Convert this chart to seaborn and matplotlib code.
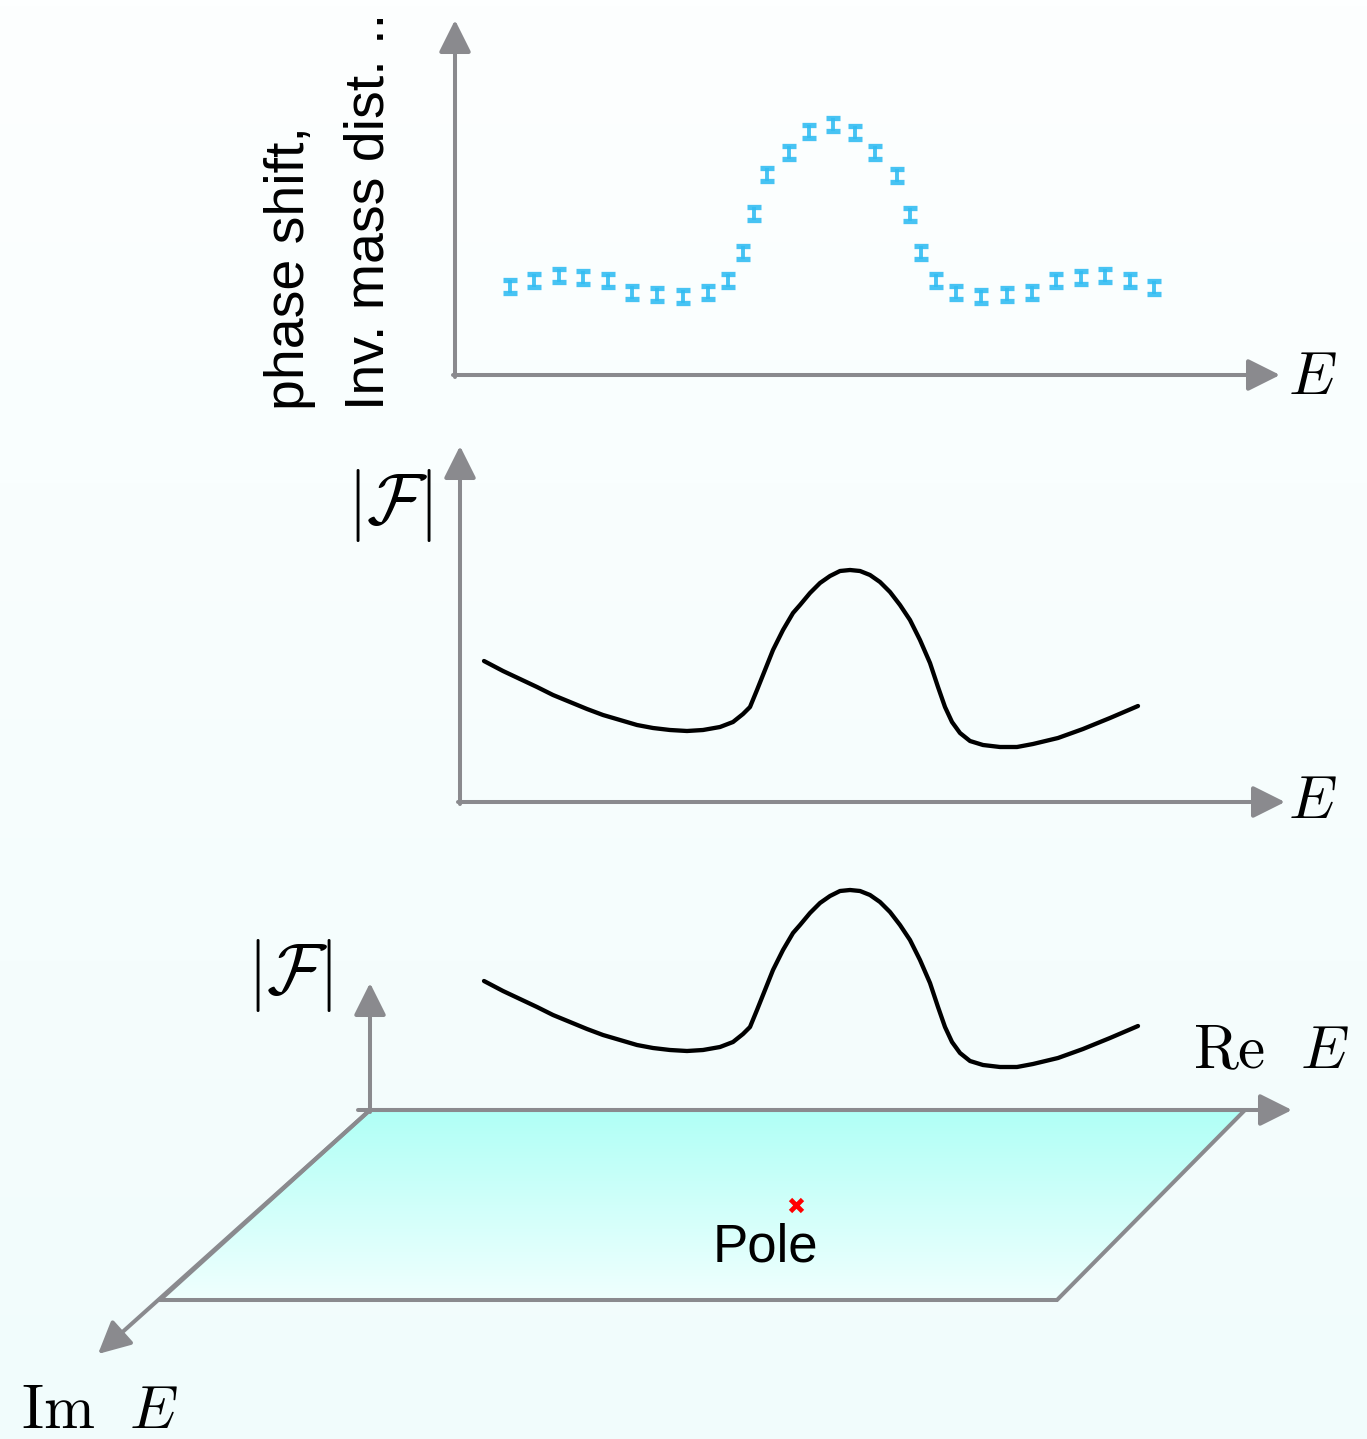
import numpy as np
import matplotlib
matplotlib.use("Agg")
import matplotlib.pyplot as plt
import seaborn as sns
from matplotlib.patches import Polygon, FancyArrowPatch
from matplotlib.colors import LinearSegmentedColormap

sns.set_style("white")
plt.rcParams["font.family"] = ["Liberation Sans", "DejaVu Sans"]
plt.rcParams["mathtext.fontset"] = "cm"
plt.rcParams["text.color"] = "black"

GREY = "#8a8a8e"
BLUE = "#33bdf2"

# measured data points (figure pixel units, y grows downward)
err_x = [510, 534, 559, 583, 608, 632, 657, 683, 708, 728, 743, 754, 767, 789, 809, 833,
         855, 875, 897, 910, 921, 936, 956, 981, 1007, 1032, 1056, 1081, 1105, 1130, 1154]
err_y = [286, 280, 275, 277, 280, 292, 294, 296, 292, 280, 252, 213, 174, 152, 131, 124,
         132, 152, 175, 214, 252, 280, 292, 296, 294, 292, 280, 277, 275, 280, 287]
err_size = 6.5

curve_x = [484, 503, 520, 537, 553, 570, 587, 603, 620, 637, 653, 670, 687, 703, 720,
           733, 743, 750, 757, 765, 773, 783, 793, 800, 810, 820, 830, 840, 850, 860,
           870, 880, 890, 900, 910, 920, 930, 938, 945, 952, 960, 970, 983, 1000, 1017,
           1033, 1058, 1083, 1110, 1138]
curve_y = [661, 671, 679, 687, 695, 702, 709, 715, 720, 725, 728, 730, 731, 730, 727,
           722, 714, 707, 690, 670, 650, 630, 613, 605, 593, 583, 576, 571, 570, 571,
           575, 582, 592, 605, 620, 640, 663, 687, 707, 722, 733, 741, 745, 747, 747,
           744, 738, 729, 718, 706]
curve_shift = 320  # same curve again above the complex plane

pole_x, pole_y = [796], [1205]

W, H = 1367, 1439
fig = plt.figure(figsize=(W / 100, H / 100), dpi=100)
ax = fig.add_axes([0, 0, 1, 1])
ax.set_xlim(0, W)
ax.set_ylim(H, 0)
ax.axis("off")

# background gradient
bg = LinearSegmentedColormap.from_list("bg", ["#fdffff", "#f1fcfc"])
ax.imshow(np.linspace(0, 1, 256).reshape(-1, 1), cmap=bg, aspect="auto",
          extent=[0, W, H, 0], zorder=0)


def arrow(x0, y0, x1, y1):
    a = FancyArrowPatch((x0, y0), (x1, y1), arrowstyle="-|>,head_length=1.1,head_width=0.55",
                        mutation_scale=18, color=GREY, lw=2.9, shrinkA=0, shrinkB=0, zorder=3)
    ax.add_patch(a)


# panel 1: data with error bars
arrow(455, 377, 455, 20)
arrow(453, 375, 1280, 375)
ax.errorbar(err_x, err_y, yerr=err_size, fmt="none", ecolor=BLUE, elinewidth=2.8,
            capsize=5.2, capthick=3.8, alpha=0.9, zorder=4)
ax.text(1312, 378, "$E$", fontsize=44, ha="center", va="center")
ax.text(290, 410, "phase shift,", fontsize=40, rotation=90, ha="center", va="bottom")
ax.text(370, 410, "Inv. mass dist. ..", fontsize=40, rotation=90, ha="center", va="bottom")

# panel 2: |F| along real axis
arrow(460, 804, 460, 446)
arrow(458, 802, 1285, 802)
sns.lineplot(x=curve_x, y=curve_y, ax=ax, color="black", lw=3.1, sort=False, zorder=5)
ax.text(1312, 803, "$E$", fontsize=44, ha="center", va="center")
ax.text(390, 505, r"$|\mathcal{F}|$", fontsize=52, ha="center", va="center")

# panel 3: complex plane
plane = Polygon([(370, 1110), (1245, 1110), (1057, 1300), (160, 1300)], closed=True,
                facecolor="none", edgecolor=GREY, lw=2.9, joinstyle="miter", zorder=3)
ax.add_patch(plane)
pc = LinearSegmentedColormap.from_list("pl", ["#b0fff6", "#f0fffe"])
im = ax.imshow(np.linspace(0, 1, 256).reshape(-1, 1), cmap=pc, aspect="auto",
               extent=[160, 1245, 1300, 1110], zorder=2)
im.set_clip_path(plane)
arrow(358, 1110, 1292, 1110)
arrow(370, 1110, 98, 1354)
arrow(370, 1112, 370, 983)
sns.lineplot(x=curve_x, y=[v + curve_shift for v in curve_y], ax=ax, color="black",
             lw=3.1, sort=False, zorder=5)
ax.plot(pole_x, pole_y, marker="x", color="red", ms=8, mew=3.4, ls="none", zorder=6)
ax.text(765, 1247, "Pole", fontsize=38, ha="center", va="center")
ax.text(1271, 1053, r"$\mathrm{Re}\ \ E$", fontsize=44, ha="center", va="center")
ax.text(100, 1413, r"$\mathrm{Im}\ \ E$", fontsize=44, ha="center", va="center")
ax.text(290, 975, r"$|\mathcal{F}|$", fontsize=52, ha="center", va="center")

fig.savefig("out.png", dpi=100)
